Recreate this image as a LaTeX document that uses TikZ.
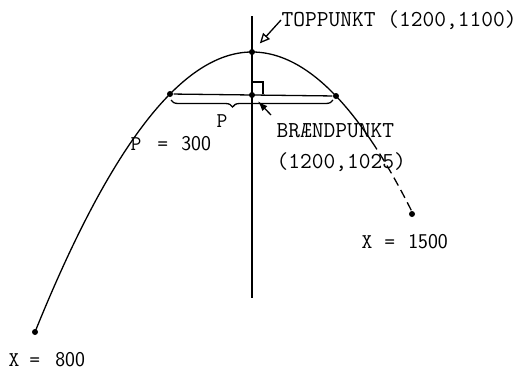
\documentclass[tikz,border=0pt]{standalone}
\usepackage{fontspec}
\usetikzlibrary{arrows.meta,decorations.pathreplacing}
\begin{document}
\begin{tikzpicture}[x=1pt,y=-1pt,line width=1.3pt,
  dot/.style={circle,fill,inner sep=0pt,minimum size=6pt},
  big/.style={font=\ttfamily\fontsize{22.8}{26}\selectfont,inner sep=0pt},
  mid/.style={font=\ttfamily\fontsize{21}{24}\selectfont,inner sep=0pt},
  num/.style={font=\sffamily\fontsize{21}{24}\selectfont}]
\useasboundingbox (0,0) rectangle (524,373);
% points
\node[dot] (top) at (252,52) {};
\node[dot] (F) at (252,95) {};
\node[dot] (L) at (170,94) {};
\node[dot] (R) at (336,96) {};
\node[dot] (A) at (35,332) {};
\node[dot] (B) at (412,214) {};
\coordinate (axT) at (252,16);
\coordinate (axB) at (252,298);
% axis and latus rectum
\draw (axT) -- (axB);
\draw (L) -- (R);
% parabola
\draw plot[domain=-217:0,samples=90,smooth] ({252+\x},{52+(\x/100)*(\x/100)*(64.28+0.0222*\x)});
\draw plot[domain=0:120,samples=60,smooth] ({252+\x},{52+(\x/100)*(\x/100)*62.4});
\draw[dash pattern=on 9pt off 5pt] plot[domain=120:160,samples=20,smooth] ({252+\x},{52+(\x/100)*(\x/100)*62.4});
% right angle mark
\draw (253,82) -- (263,82) -- (263,94);
% brace
\draw[decorate,decoration={brace,mirror,amplitude=7pt,aspect=0.38}] (171,100) -- (333,100);
\node[mid] (p) at (222,121) {P};
\node[mid,anchor=west] (p300) at (130,144) {P\hspace{16pt}=\hspace{13pt}{\sffamily 300}};
% labels
\node[big,anchor=west] (tl) at (281,20) {TOPPUNKT (1200,1100)};
\draw[-{Triangle[open,length=10pt,width=9pt]},shorten >=8pt] (tl.west) -- (top);
\node[big,anchor=west] (bp) at (276,131) {BRÆNDPUNKT};
\node[big,anchor=west] (bc) at (276,162) {(1200,1025)};
\coordinate (lead) at (271,115);
\draw[-{Latex[length=10pt,width=7pt]},shorten >=5pt] (lead) -- (F);
\node[mid,anchor=west] (x800) at (8,360) {X\hspace{10pt}=\hspace{15pt}{\sffamily 800}};
\node[mid,anchor=west] (x1500) at (361,242) {X\hspace{12pt}=\hspace{13pt}{\sffamily 1500}};
\end{tikzpicture}
\end{document}
